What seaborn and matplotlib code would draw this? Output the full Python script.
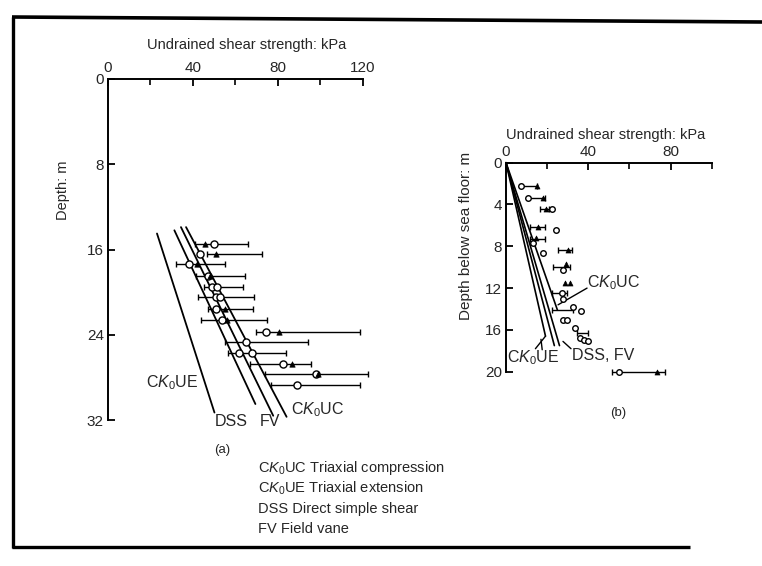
import matplotlib
matplotlib.use("Agg")
import matplotlib.pyplot as plt
import seaborn as sns
import pandas as pd

# ---------------- data: panel (a) ----------------
a_lines = {
    "CK0UE": ([23.1, 50.2], [14.5, 31.3]),
    "DSS":   ([31.3, 69.5], [14.2, 30.5]),
    "FV":    ([34.4, 77.9], [13.9, 31.6]),
    "CK0UC": ([36.8, 84.2], [13.9, 31.7]),
}
a_bar_depth = [15.5, 16.4, 17.4, 18.5, 19.5, 20.5, 21.6, 22.6, 23.7, 24.7, 25.7, 26.7, 27.7, 28.7]
a_bar_lo = [40.8, 46.8, 32.1, 41.5, 45.5, 42.3, 47.1, 43.9, 70.0, 55.0, 56.6, 67.0, 74.2, 76.8]
a_bar_hi = [65.9, 72.8, 55.0, 64.8, 63.7, 68.7, 68.4, 75.0, 118.6, 94.5, 83.8, 95.5, 122.6, 119.0]
a_circ_depth = [15.5, 16.4, 17.4, 18.5, 19.5, 19.5, 20.5, 20.5, 21.6, 22.6, 23.7, 24.7, 25.7, 25.7, 26.7, 27.7, 28.7]
a_circ_su = [49.8, 43.6, 38.4, 47.2, 49.1, 51.3, 51.0, 52.9, 50.7, 53.7, 74.3, 64.9, 61.6, 68.1, 82.4, 97.9, 88.9]
a_tri_depth = [15.5, 16.4, 17.4, 18.5, 21.6, 22.6, 23.7, 26.7, 27.7]
a_tri_su = [45.8, 50.7, 41.9, 47.9, 55.3, 56.2, 80.6, 86.7, 99.0]

# ---------------- data: panel (b) ----------------
b_lines = {
    "CK0UE": ([0, 19.2], [0, 16.6]),
    "DSS":   ([0, 23.5], [0, 17.5]),
    "FV":    ([0, 26.0], [0, 17.5]),
    "CK0UC": ([0, 25.0], [0, 14.1]),
}
b_bar_depth = [2.2, 3.4, 4.4, 6.2, 7.3, 8.35, 9.95, 12.5, 14.1, 16.3, 20.0]
b_bar_lo = [7.3, 10.8, 16.5, 11.7, 11.5, 25.4, 23.0, 22.2, 22.2, 34.4, 51.4]
b_bar_hi = [14.9, 19.0, 21.0, 19.0, 19.0, 32.0, 31.1, 29.5, 32.8, 40.0, 77.3]
b_circ_depth = [2.2, 3.4, 4.4, 6.4, 7.7, 8.6, 10.3, 12.5, 13.0, 13.8, 14.2, 15.05, 15.05, 15.85, 16.8, 17.0, 17.1, 20.0]
b_circ_su = [7.3, 10.8, 22.2, 24.3, 13.3, 18.1, 27.9, 27.1, 27.9, 32.8, 36.5, 27.9, 29.5, 33.5, 36.0, 38.1, 40.0, 54.9]
b_tri_depth = [2.2, 3.4, 4.4, 6.2, 7.2, 8.35, 9.7, 11.5, 11.5, 20.0]
b_tri_su = [14.9, 18.0, 19.3, 15.7, 14.5, 30.3, 29.2, 28.8, 31.3, 73.3]

legend_lines = [
    r"C$K_0$UC Triaxial compression",
    r"C$K_0$UE Triaxial extension",
    "DSS Direct simple shear",
    "FV Field vane",
]

# ---------------- style ----------------
sns.set_theme(style="white")
plt.rcParams["font.family"] = ["Liberation Sans", "DejaVu Sans"]
plt.rcParams["mathtext.fontset"] = "custom"
plt.rcParams["mathtext.rm"] = "Liberation Sans"
plt.rcParams["mathtext.it"] = "Liberation Sans:italic"
plt.rcParams["mathtext.bf"] = "Liberation Sans:bold"

W, H = 762, 566
fig = plt.figure(figsize=(W / 100, H / 100), dpi=100)
fig.patch.set_facecolor("white")


def fx(x):
    return x / W


def fy(y):
    return 1 - y / H


def rect(x0, y0, x1, y1):
    return [fx(x0), fy(y1), fx(x1) - fx(x0), fy(y0) - fy(y1)]


ax_a = fig.add_axes(rect(108, 79, 362.5, 420))
ax_b = fig.add_axes(rect(506, 162.7, 711.7, 371.7))


def style_axis(ax, xmax, ymax, xmajor, xminor, yticks, fs):
    ax.set_xlim(0, xmax)
    ax.set_ylim(ymax, 0)
    ax.set_facecolor("none")
    ax.xaxis.tick_top()
    ax.xaxis.set_label_position("top")
    for s in ("right", "bottom"):
        ax.spines[s].set_visible(False)
    for s in ("left", "top"):
        ax.spines[s].set_visible(True)
        ax.spines[s].set_color("black")
        ax.spines[s].set_linewidth(1.4)
    ax.set_xticks(xmajor)
    ax.set_xticklabels([str(v) for v in xmajor])
    ax.set_xticks(xminor, minor=True)
    ax.set_yticks(yticks)
    ax.set_yticklabels([str(v) for v in yticks])
    ax.tick_params(axis="x", which="major", direction="in", length=5, width=1.3,
                   color="black", labelsize=fs, pad=3, top=True, bottom=False)
    ax.tick_params(axis="x", which="minor", direction="in", length=4, width=1.2,
                   color="black", top=True, bottom=False)
    ax.tick_params(axis="y", which="major", direction="in", length=5, width=1.3,
                   color="black", labelsize=fs, pad=3, left=True, right=False)
    ax.set_xlabel("")
    ax.set_ylabel("")
    ax.grid(False)


def draw_panel(ax, lines, bd, blo, bhi, cd, cs, td, ts, msz_c, msz_t, lw):
    for name, (xs, ys) in lines.items():
        sns.lineplot(x=xs, y=ys, ax=ax, color="black", linewidth=lw,
                     sort=False, estimator=None, legend=False)
    ax.hlines(bd, blo, bhi, color="black", linewidth=1.0)
    ends = pd.DataFrame({"su": blo + bhi, "depth": bd + bd})
    sns.scatterplot(data=ends, x="su", y="depth", ax=ax, marker="|",
                    s=14, color="black", linewidth=1.0, legend=False)
    circ = pd.DataFrame({"su": cs, "depth": cd})
    sns.scatterplot(data=circ, x="su", y="depth", ax=ax, marker="o",
                    s=msz_c, facecolor="white", edgecolor="black",
                    linewidth=1.0, legend=False, zorder=4)
    tri = pd.DataFrame({"su": ts, "depth": td})
    sns.scatterplot(data=tri, x="su", y="depth", ax=ax, marker="^",
                    s=msz_t, color="black", edgecolor="black",
                    linewidth=0.5, legend=False, zorder=4)
    for art in ax.get_children():
        if hasattr(art, "set_clip_on") and art not in ax.spines.values():
            art.set_clip_on(False)


draw_panel(ax_a, a_lines, a_bar_depth, a_bar_lo, a_bar_hi,
           a_circ_depth, a_circ_su, a_tri_depth, a_tri_su, 26, 15, 1.3)
draw_panel(ax_b, b_lines, b_bar_depth, b_bar_lo, b_bar_hi,
           b_circ_depth, b_circ_su, b_tri_depth, b_tri_su, 16, 13, 1.2)

style_axis(ax_a, 120, 32, [0, 40, 80, 120], [20, 60, 100], [0, 8, 16, 24, 32], 11)
style_axis(ax_b, 100, 20, [0, 40, 80], [20, 60, 100], [0, 4, 8, 12, 16, 20], 11)

# leader lines in panel (b)
ax_b.plot([25.3, 39.4], [13.6, 12.0], color="black", lw=1.0)
ax_b.plot([14.3, 19.2], [17.8, 16.6], color="black", lw=1.0)
ax_b.plot([17.0, 17.6], [16.9, 17.9], color="black", lw=1.0)
ax_b.plot([27.7, 31.6], [17.1, 17.8], color="black", lw=1.0)

# axis titles
fig.text(fx(247), fy(45), "Undrained shear strength: kPa", ha="center", va="center", fontsize=10.5)
fig.text(fx(606), fy(135), "Undrained shear strength: kPa", ha="center", va="center", fontsize=10.5)
fig.text(fx(63), fy(190), "Depth: m", ha="center", va="center", rotation=90, fontsize=10.5)
fig.text(fx(466), fy(236), "Depth below sea floor: m", ha="center", va="center", rotation=90, fontsize=11)

# curve labels, panel (a)
fig.text(fx(172), fy(383), r"C$K_0$UE", ha="center", va="center", fontsize=11.5)
fig.text(fx(231), fy(422), "DSS", ha="center", va="center", fontsize=11.5)
fig.text(fx(270), fy(422), "FV", ha="center", va="center", fontsize=11.5)
fig.text(fx(318), fy(410), r"C$K_0$UC", ha="center", va="center", fontsize=11.5)
fig.text(fx(222), fy(450), "(a)", ha="center", va="center", fontsize=9.5)

# curve labels, panel (b)
fig.text(fx(614), fy(283), r"C$K_0$UC", ha="center", va="center", fontsize=11.5)
fig.text(fx(533), fy(358), r"C$K_0$UE", ha="center", va="center", fontsize=11.5)
fig.text(fx(603), fy(355), "DSS, FV", ha="center", va="center", fontsize=11.5)
fig.text(fx(618), fy(413), "(b)", ha="center", va="center", fontsize=9.5)

# key
for i, t in enumerate(legend_lines):
    fig.text(fx(258), fy(468 + 20.3 * i), t, ha="left", va="center", fontsize=10.5)

# page frame
frame = fig.add_axes([0, 0, 1, 1], facecolor="none", zorder=-1)
frame.set_xlim(0, W)
frame.set_ylim(H, 0)
frame.axis("off")
frame.plot([13, 13], [17, 548], color="black", lw=2.4, solid_capstyle="butt")
frame.plot([12, 762], [17, 22], color="black", lw=2.6, solid_capstyle="butt")
frame.plot([12, 690], [547, 547], color="black", lw=2.4, solid_capstyle="butt")

fig.savefig("out.png", dpi=100, facecolor="white")
